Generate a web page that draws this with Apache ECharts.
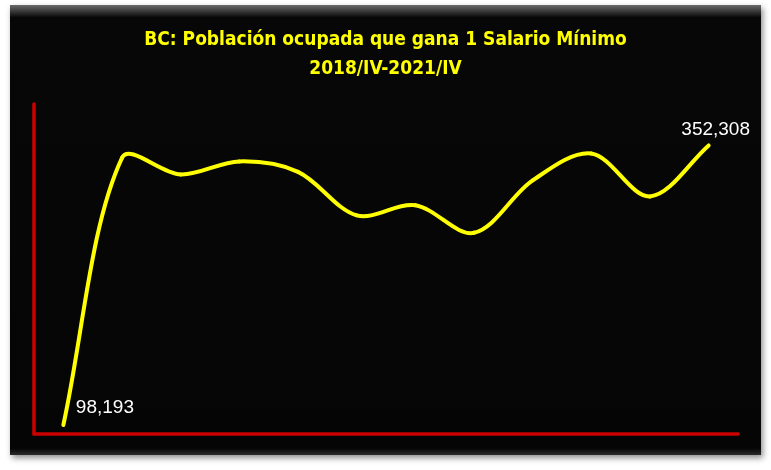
<!DOCTYPE html>
<html>
<head>
<meta charset="utf-8">
<script src="https://cdn.jsdelivr.net/npm/echarts@6/dist/echarts.min.js"></script>
<style>
  html, body { margin: 0; padding: 0; background: #ffffff; }
  #chart { width: 771px; height: 470px; }
</style>
</head>
<body>
<div id="chart"></div>
<script>
const titleLines = ["BC: Población ocupada que gana 1 Salario Mínimo", "2018/IV-2021/IV"];
const categories = ["2018/IV", "2019/I", "2019/II", "2019/III", "2019/IV", "2020/I",
                    "2020/III", "2020/IV", "2021/I", "2021/II", "2021/III", "2021/IV"];
const values = [98193, 341000, 326000, 337800, 328300, 288800, 297900, 272900, 320500, 345000, 306000, 352308];

const chart = echarts.init(document.getElementById('chart'), null, { renderer: 'canvas' });
const last = values.length - 1;
const fmt = v => v.toLocaleString('en-US');
const labelBase = { show: true, color: '#ffffff', opacity: 1, fontFamily: 'Liberation Sans, Arial, sans-serif', fontSize: 19, formatter: p => fmt(p.value[1]) };
const labelData = values.map((v, i) => {
  if (i === 0) return { value: [i, v], label: Object.assign({}, labelBase, { position: 'right', distance: 12, offset: [0, -17] }) };
  if (i === last) return { value: [i, v], label: Object.assign({}, labelBase, { position: 'top', distance: 6, offset: [7, 0] }) };
  return { value: [i, v], label: { show: false } };
});

// Excel-like smoothed curve: one Bezier segment per pair of consecutive points,
// positioned through the chart's own axes (api.coord).
function renderSegment(params, api) {
  const i = params.dataIndex;
  if (i >= last) return null;
  const P = k => api.coord([Math.max(0, Math.min(last, k)), values[Math.max(0, Math.min(last, k))]]);
  const p0 = P(i - 1), p1 = P(i), p2 = P(i + 1), p3 = P(i + 2);
  const d = (a, b) => Math.hypot(b[0] - a[0], b[1] - a[1]);
  const d01 = d(p0, p1), d12 = d(p1, p2), d23 = d(p2, p3);
  const f = 1 / 3;
  const s1 = (d01 + d12) > 0 ? f * d12 / (d01 + d12) : 0;
  const s2 = (d12 + d23) > 0 ? f * d12 / (d12 + d23) : 0;
  const cp1 = [p1[0] + (p2[0] - p0[0]) * s1, p1[1] + (p2[1] - p0[1]) * s1];
  const cp2 = [p2[0] - (p3[0] - p1[0]) * s2, p2[1] - (p3[1] - p1[1]) * s2];
  return {
    type: 'bezierCurve',
    shape: { x1: p1[0], y1: p1[1], x2: p2[0], y2: p2[1], cpx1: cp1[0], cpy1: cp1[1], cpx2: cp2[0], cpy2: cp2[1] },
    style: { stroke: '#FFFF00', lineWidth: 4, fill: null, lineCap: 'round' }
  };
}

chart.setOption({
  backgroundColor: '#ffffff',
  animation: false,
  graphic: [
    {
      type: 'rect', z: -100, silent: true,
      shape: { x: 10, y: 5, width: 751, height: 450 },
      style: {
        fill: {
          type: 'linear', x: 0, y: 0, x2: 0, y2: 1,
          colorStops: [
            { offset: 0, color: '#6a6a6a' },
            { offset: 0.028, color: '#070707' },
            { offset: 0.985, color: '#050505' },
            { offset: 1, color: '#2a2a2a' }
          ]
        },
        shadowBlur: 6, shadowColor: 'rgba(0,0,0,0.45)', shadowOffsetX: 2, shadowOffsetY: 3
      }
    }
  ],
  title: {
    text: titleLines.join('\n'),
    left: 'center',
    top: 21,
    textStyle: {
      color: '#FFFF00', fontWeight: 'bold', fontSize: 19, lineHeight: 29,
      fontFamily: 'Liberation Sans Narrow, DejaVu Sans Condensed, Arial Narrow, sans-serif'
    }
  },
  grid: { left: 34, right: 33, top: 104, bottom: 36, containLabel: false },
  xAxis: {
    type: 'category', data: categories, boundaryGap: true,
    axisLine: { show: true, lineStyle: { color: '#CC0000', width: 3.5 } },
    axisTick: { show: false }, axisLabel: { show: false }, splitLine: { show: false }
  },
  yAxis: {
    type: 'value', min: 90000, max: 390000,
    axisLine: { show: true, lineStyle: { color: '#CC0000', width: 3.5 } },
    axisTick: { show: false }, axisLabel: { show: false }, splitLine: { show: false }
  },
  series: [
    {
      type: 'custom',
      renderItem: renderSegment,
      data: values.map((v, i) => [i, v]),
      encode: { x: 0, y: 1 },
      clip: false,
      z: 3
    },
    {
      type: 'scatter',
      data: labelData,
      symbol: 'circle', symbolSize: 1,
      itemStyle: { color: 'rgba(0,0,0,0)', opacity: 1 },
      z: 4
    }
  ]
});
</script>
</body>
</html>
